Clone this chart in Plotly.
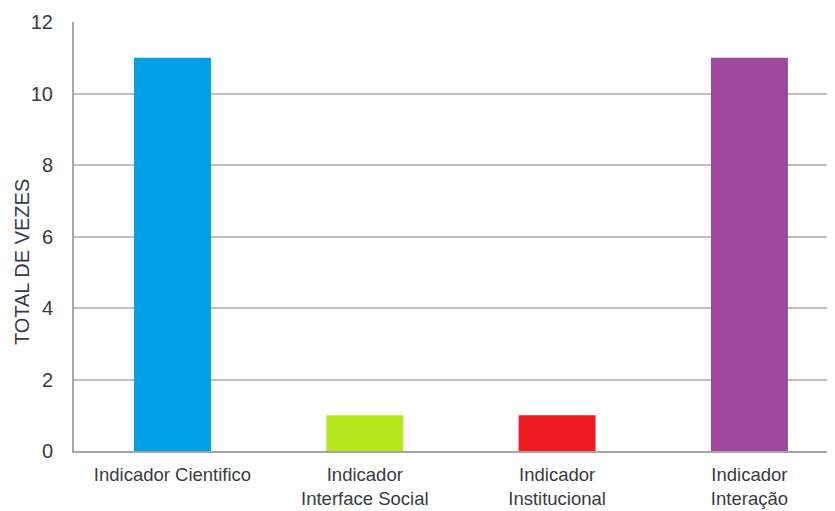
import plotly.graph_objects as go

categories = ["Indicador Cientifico", "Indicador<br>Interface Social", "Indicador<br>Institucional", "Indicador<br>Interação"]
values = [11, 1, 1, 11]
colors = ["#00A0E4", "#B5E61D", "#ED1C24", "#9E479E"]
y_ticks = [0, 2, 4, 6, 8, 10, 12]
y_title = "TOTAL DE VEZES"

fig = go.Figure()
fig.add_trace(go.Bar(
    x=list(range(len(categories))),
    y=values,
    marker=dict(color=colors, line=dict(width=0)),
    width=0.4,
))

font_color = "#3A3A44"
font_family = "Liberation Sans, Arial, sans-serif"
# page body has an 8px margin, so the figure is sized/offset accordingly
fig.update_layout(
    width=827, height=503,
    margin=dict(l=66, r=0, t=14, b=60, autoexpand=False),
    paper_bgcolor="white", plot_bgcolor="white",
    showlegend=False,
    font=dict(family=font_family, size=20, color=font_color),
    xaxis=dict(
        tickmode="array",
        tickvals=list(range(len(categories))),
        ticktext=categories,
        range=[-0.512, 3.445],
        showgrid=False,
        showline=True, linecolor="#A6A6A6", linewidth=2,
        ticks="", ticklabelstandoff=6,
        tickfont=dict(size=18.5, color=font_color),
        zeroline=False, automargin=False,
    ),
    yaxis=dict(
        range=[0, 12],
        tickvals=y_ticks,
        showgrid=True, gridcolor="#BFBFBF", gridwidth=2,
        showline=True, linecolor="#A6A6A6", linewidth=2,
        ticks="", ticklabelstandoff=15,
        tickfont=dict(size=20, color=font_color),
        zeroline=False, automargin=False,
    ),
    annotations=[dict(
        text=y_title, textangle=-90,
        xref="paper", yref="paper", x=-0.0685, y=0.44,
        xanchor="center", yanchor="middle", showarrow=False,
        font=dict(size=20, color=font_color, family=font_family),
    )],
)

fig.write_html("out.html")
